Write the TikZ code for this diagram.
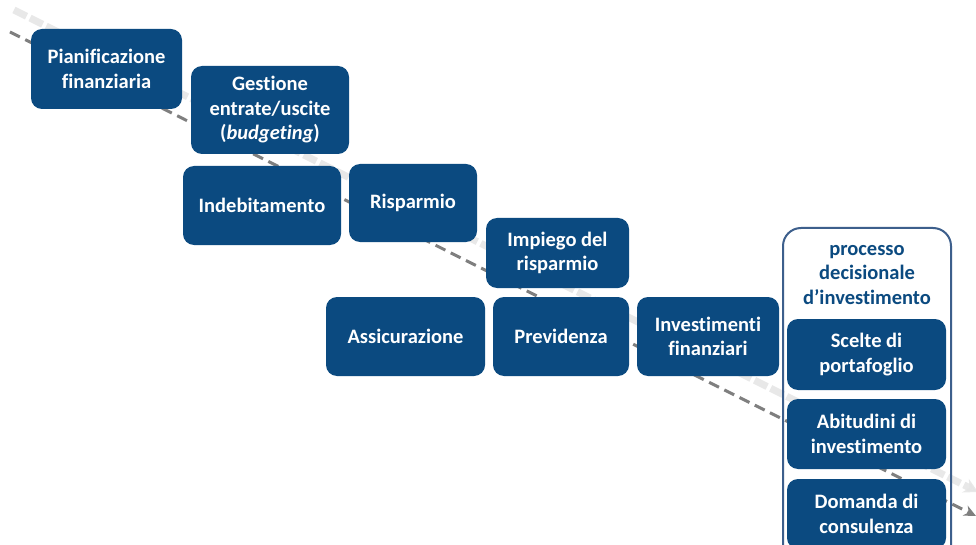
\documentclass[tikz,border=0pt]{standalone}
\usepackage{fontspec}
\setmainfont[Ligatures=NoCommon]{Carlito}
\usetikzlibrary{arrows.meta}
\definecolor{boxblue}{HTML}{0B4A80}
\definecolor{framblue}{HTML}{3D5F8C}
\definecolor{dashgray}{HTML}{7F7F7F}
\tikzset{
  bluebox/.style={draw=none, fill=boxblue, rounded corners=11pt, text=white,
    font=\fontsize{20.5}{24.5}\selectfont\bfseries, align=center, inner sep=0pt},
  flowline/.style={draw=dashgray, line width=3pt, dash pattern=on 11pt off 6pt,
    -{Stealth[length=12pt,width=11pt]}},
  shadowline/.style={draw=gray!20, line width=7pt, dash pattern=on 14pt off 4pt,
    -{Stealth[length=14pt,width=15pt]}},
}
\begin{document}
\begin{tikzpicture}[x=1pt,y=-1pt]
\useasboundingbox (0,0) rectangle (976,545);
\clip (0,0) rectangle (976,545);
\fill[white] (0,0) rectangle (976,545);
% trend line and its shadow
\coordinate (s0) at (14,10);
\coordinate (s1) at (978,492);
\coordinate (l0) at (10,32);
\coordinate (l1) at (976,516);
\draw[shadowline, opacity=0.85] (s0) -- (s1);
\draw[flowline] (l0) -- (l1);
% boxes
\node[bluebox, minimum width=151pt, minimum height=80pt] (pian) at (106.5,69) {Pianificazione\\finanziaria};
\node[bluebox, minimum width=158pt, minimum height=88pt] (gest) at (270,110) {Gestione\\entrate/uscite\\(\textit{budgeting})};
\node[bluebox, minimum width=158pt, minimum height=79pt] (indeb) at (262,205.5) {Indebitamento};
\node[bluebox, minimum width=128pt, minimum height=78pt] (risp) at (413,203) {Risparmio};
\node[bluebox, minimum width=143pt, minimum height=70pt] (imp) at (557.5,253) {Impiego del\\risparmio};
\node[bluebox, minimum width=159pt, minimum height=79pt] (assic) at (405.5,336.5) {Assicurazione};
\node[bluebox, minimum width=136pt, minimum height=79pt] (prev) at (561,336.5) {Previdenza};
\node[bluebox, minimum width=142pt, minimum height=79pt] (inv) at (708,336.5) {Investimenti\\finanziari};
% container
\draw[framblue, line width=2pt, rounded corners=18pt] (783,228) rectangle (951,575);
\node[text=boxblue, font=\fontsize{20.5}{24.5}\selectfont\bfseries, align=center, inner sep=0pt] (proc) at (867,275) {processo\\decisionale\\d’investimento};
\node[bluebox, minimum width=159pt, minimum height=71pt] (scel) at (866.5,354.5) {Scelte di\\portafoglio};
\node[bluebox, minimum width=159pt, minimum height=70pt] (abit) at (866.5,434) {Abitudini di\\investimento};
\node[bluebox, minimum width=159pt, minimum height=70pt] (dom) at (866.5,514) {Domanda di\\consulenza};
\end{tikzpicture}
\end{document}
